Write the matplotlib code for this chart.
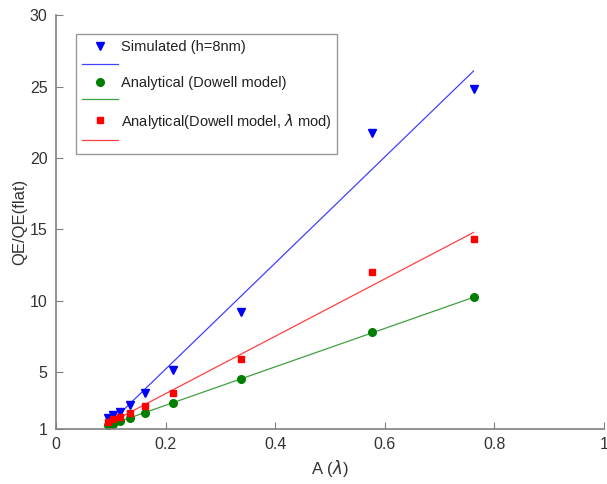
import matplotlib
matplotlib.use("Agg")
from matplotlib import pyplot as plt
import numpy as np

plt.rcParams["font.family"] = ["Liberation Sans", "DejaVu Sans"]

# absorption A(lambda) at the sampled points
a = [0.095, 0.104, 0.117, 0.135, 0.163, 0.214, 0.338, 0.577, 0.762]

qe_sim = [1.75, 1.95, 2.2, 2.7, 3.5, 5.13, 9.2, 21.75, 24.8]
qe_dowell = [1.25, 1.38, 1.55, 1.8, 2.15, 2.84, 4.5, 7.77, 10.22]
qe_lam = [1.5, 1.68, 1.86, 2.15, 2.6, 3.52, 5.9, 11.97, 14.3]

labels = ["Simulated (h=8nm)", "Analytical (Dowell model)",
          r"Analytical(Dowell model, $\lambda$ mod)"]

x_ticks = [0, 0.2, 0.4, 0.6, 0.8, 1]
x_tick_labels = ["0", "0.2", "0.4", "0.6", "0.8", "1"]
y_ticks = [1, 5, 10, 15, 20, 25, 30]

fig = plt.figure(figsize=(6.07, 4.84), dpi=100)
ax = fig.add_axes([0.0923, 0.1136, 0.9027, 0.855])

styles = [("v", "#0000ff", 6), ("o", "#007f00", 5.5), ("s", "#ff0000", 4.5)]
handles = []
xs = np.array(a)
for ys, lab, (m, c, ms) in zip([qe_sim, qe_dowell, qe_lam], labels, styles):
    pt, = ax.plot(xs, ys, m, color=c, ms=ms, linestyle="none", label=lab)
    k, b = np.polyfit(xs, ys, 1)
    ln, = ax.plot(xs, k * xs + b, "-", color=c, lw=0.9, alpha=0.75, label=" ")
    handles += [pt, ln]

ax.set_xlim(0, 1)
ax.set_ylim(1, 30)
ax.set_xticks(x_ticks)
ax.set_xticklabels(x_tick_labels)
ax.set_yticks(y_ticks)
for s in ["top", "right"]:
    ax.spines[s].set_visible(False)
for s in ["left", "bottom"]:
    ax.spines[s].set_color("#808080")
    ax.spines[s].set_linewidth(1.2)
ax.tick_params(direction="in", length=5, color="#808080", labelsize=11.5,
               labelcolor="#333333", pad=6)

ax.set_xlabel(r"A ($\lambda$)", fontsize=12, color="#333333", labelpad=4)
ax.set_ylabel("QE/QE(flat)", fontsize=12, color="#333333", labelpad=2)

leg = ax.legend(handles=handles, loc="upper left", bbox_to_anchor=(0.0365, 0.954),
                borderaxespad=0, fontsize=10.5, frameon=True, fancybox=False,
                borderpad=0.38, labelspacing=0.27, handlelength=2.5,
                handletextpad=0.2)
leg.get_frame().set_edgecolor("#808080")
leg.get_frame().set_linewidth(1.0)
for t in leg.get_texts():
    t.set_color("#222222")

fig.savefig("out.png", dpi=100)
